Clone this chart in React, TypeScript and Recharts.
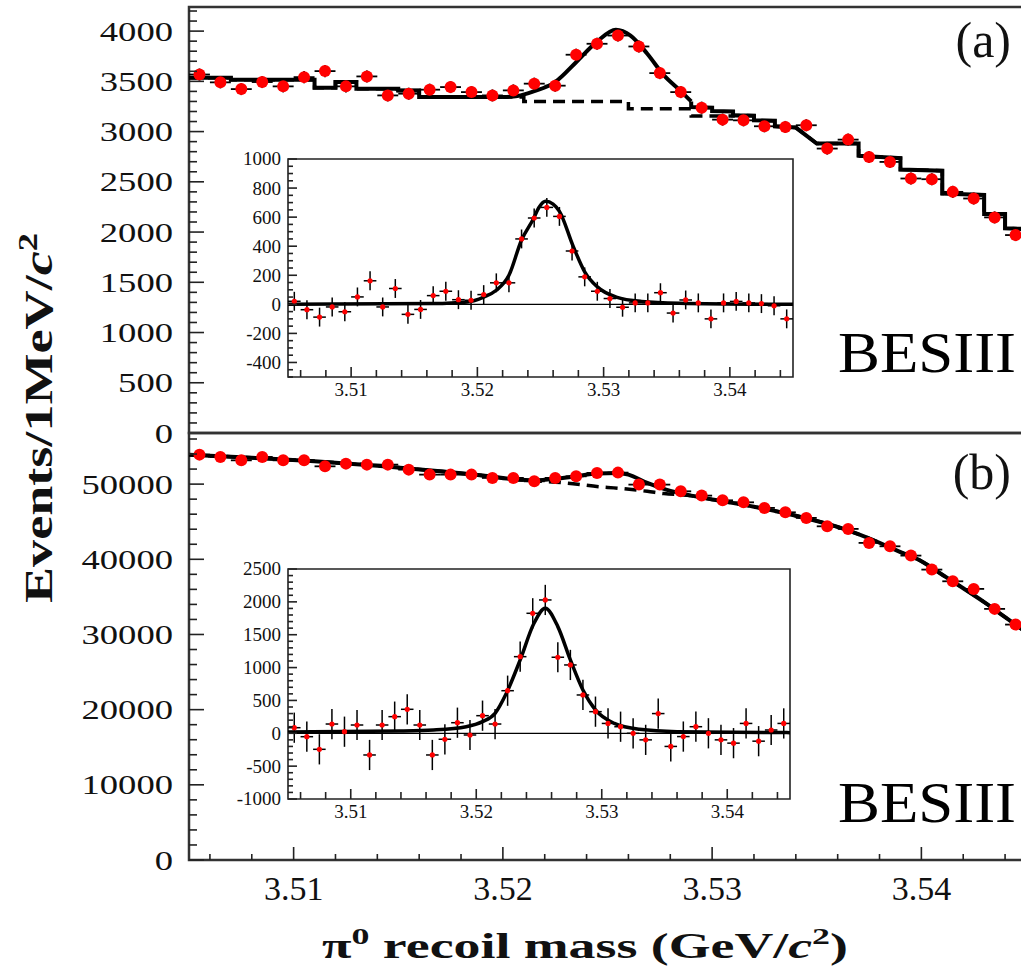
import React from 'react';
import { ComposedChart, Scatter, Line, XAxis, YAxis, ErrorBar, ReferenceLine, ReferenceArea } from 'recharts';

// ---------------- data ----------------
const binCenters = [
  3.5055, 3.5065, 3.5075, 3.5085, 3.5095, 3.5105, 3.5115, 3.5125, 3.5135, 3.5145,
  3.5155, 3.5165, 3.5175, 3.5185, 3.5195, 3.5205, 3.5215, 3.5225, 3.5235, 3.5245,
  3.5255, 3.5265, 3.5275, 3.5285, 3.5295, 3.5305, 3.5315, 3.5325, 3.5335, 3.5345,
  3.5355, 3.5365, 3.5375, 3.5385, 3.5395, 3.5405, 3.5415, 3.5425, 3.5435, 3.5445,
];

const countsA = [
  3568, 3490, 3423, 3493, 3450, 3542, 3602, 3450, 3549, 3360,
  3377, 3417, 3443, 3393, 3360, 3410, 3477, 3457, 3765, 3874,
  3956, 3847, 3582, 3393, 3238, 3119, 3112, 3053, 3046, 3063,
  2831, 2920, 2748, 2698, 2533, 2526, 2400, 2334, 2146, 1970,
];

const countsB = [
  53923, 53617, 53165, 53617, 53165, 53165, 52367, 52726, 52593, 52593,
  51928, 51263, 51263, 51263, 50824, 50824, 50372, 50824, 51037, 51489,
  51530, 49934, 49934, 49043, 48471, 47846, 47580, 46835, 46250, 45505,
  44388, 44043, 42181, 41729, 40492, 38630, 37074, 36064, 33404, 31316,
];

const residA = [
  21, -37, -88, -18, -51, 51, 162, -18, 109, -69,
  -35, 60, 90, 32, 28, 67, 148, 148, 450, 594,
  667, 605, 367, 189, 90, 40, -20, 10, 10, 80,
  -60, 30, 10, -100, 10, 20, 10, 5, -10, -100,
];

const residB = [
  85, -52, -244, 141, 24, 126, -330, 126, 253, 365,
  126, -330, -91, 161, -26, 268, 141, 648, 1166, 1826,
  2029, 1157, 1040, 583, 329, 150, 100, 0, -100, 300,
  -200, -50, 100, 0, -100, -150, 150, -120, 50, 150,
];

const binHalfWidth = 0.0005;
const errMainA = 60;
const errMainB = 225;
const errInsetA = 65;
const errInsetB = 230;

// fit curves, [mass, value]
const fitA_left: [number, number][] = [
  [3.505, 3536], [3.507, 3536], [3.507, 3516], [3.511, 3516], [3.511, 3437], [3.512, 3437],
  [3.512, 3493], [3.513, 3493], [3.513, 3427], [3.515, 3427], [3.515, 3410], [3.516, 3410],
  [3.516, 3344], [3.5200, 3344],
];
const fitA_peak: [number, number][] = [
  [3.5200, 3344], [3.5207, 3355], [3.5215, 3403], [3.5225, 3493], [3.5235, 3690], [3.5245, 3895],
  [3.5254, 4013], [3.5261, 3956], [3.5269, 3775], [3.5277, 3559], [3.5285, 3403], [3.5290, 3300],
];
const fitA_right: [number, number][] = [
  [3.5290, 3300], [3.529, 3245], [3.530, 3238], [3.530, 3205], [3.531, 3200], [3.531, 3162],
  [3.532, 3158], [3.532, 3112], [3.533, 3108], [3.533, 3053], [3.534, 3040], [3.535, 2881],
  [3.537, 2881], [3.537, 2760], [3.539, 2735], [3.539, 2623], [3.541, 2610], [3.541, 2384],
  [3.543, 2370], [3.543, 2179], [3.544, 2179], [3.544, 2037], [3.545, 2030],
];
const bkgA: [number, number][] = [
  [3.505, 3536], [3.507, 3536], [3.507, 3516], [3.511, 3516], [3.511, 3437], [3.512, 3437],
  [3.512, 3493], [3.513, 3493], [3.513, 3427], [3.515, 3427], [3.515, 3410], [3.516, 3410],
  [3.516, 3344], [3.521, 3344], [3.521, 3300], [3.526, 3300], [3.526, 3228], [3.529, 3228],
  [3.529, 3155], [3.531, 3155], [3.531, 3162], [3.532, 3158], [3.532, 3112], [3.533, 3108],
  [3.533, 3053], [3.534, 3040], [3.535, 2881], [3.537, 2881], [3.537, 2760], [3.539, 2735],
  [3.539, 2623], [3.541, 2610], [3.541, 2384], [3.543, 2370], [3.543, 2179], [3.544, 2179],
  [3.544, 2037], [3.545, 2030],
];

const fitB: [number, number][] = [
  [3.505, 53900], [3.508, 53500], [3.511, 53050], [3.514, 52450], [3.517, 51700], [3.519, 51150],
  [3.5205, 50650], [3.5215, 50500], [3.5225, 50690], [3.5235, 51050], [3.5245, 51400], [3.5255, 51490],
  [3.526, 51260], [3.5269, 50160], [3.5278, 49270], [3.529, 48470], [3.530, 47950], [3.532, 47000],
  [3.534, 45800], [3.536, 44300], [3.538, 42200], [3.539, 40950], [3.540, 39750], [3.541, 37950],
  [3.542, 36150], [3.543, 34300], [3.544, 32300], [3.545, 30300],
];
const bkgB: [number, number][] = [
  [3.505, 53900], [3.508, 53500], [3.511, 53050], [3.514, 52450], [3.517, 51700], [3.519, 51150],
  [3.5205, 50650], [3.523, 50160], [3.5247, 49630], [3.5253, 49500], [3.5269, 49040], [3.5277, 48740],
  [3.529, 48470], [3.530, 47950], [3.532, 47000], [3.534, 45800], [3.536, 44300], [3.538, 42200],
  [3.539, 40950], [3.540, 39750], [3.541, 37950], [3.542, 36150], [3.543, 34300], [3.544, 32300],
  [3.545, 30300],
];

const insetFitA: [number, number][] = [
  [3.505, 0], [3.5165, 5], [3.5192, 16], [3.5205, 50], [3.5215, 97], [3.5225, 200], [3.5235, 443],
  [3.5244, 582], [3.5249, 670], [3.5254, 709], [3.526, 690], [3.5265, 640], [3.5276, 397],
  [3.5285, 224], [3.5295, 120], [3.531, 50], [3.533, 20], [3.536, 8], [3.545, 0],
];
const insetFitB: [number, number][] = [
  [3.505, 20], [3.5139, 35], [3.5166, 50], [3.5192, 100], [3.5205, 177], [3.5215, 304], [3.5224, 609],
  [3.5235, 1116], [3.5246, 1674], [3.5255, 1903], [3.5265, 1623], [3.5275, 1116], [3.5285, 659],
  [3.5295, 355], [3.531, 150], [3.533, 60], [3.536, 25], [3.545, 10],
];

// ticks
const massTicks = [
  3.506, 3.508, 3.51, 3.512, 3.514, 3.516, 3.518, 3.52, 3.522, 3.524,
  3.526, 3.528, 3.53, 3.532, 3.534, 3.536, 3.538, 3.54, 3.542, 3.544,
];
const massMajors = [3.51, 3.52, 3.53, 3.54];
const ticksA = [0,100,200,300,400,500,600,700,800,900,1000,1100,1200,1300,1400,1500,1600,1700,1800,1900,2000,2100,2200,2300,2400,2500,2600,2700,2800,2900,3000,3100,3200,3300,3400,3500,3600,3700,3800,3900,4000,4100,4200];
const majorsA = [0, 500, 1000, 1500, 2000, 2500, 3000, 3500, 4000];
const ticksB = [0,2000,4000,6000,8000,10000,12000,14000,16000,18000,20000,22000,24000,26000,28000,30000,32000,34000,36000,38000,40000,42000,44000,46000,48000,50000,52000,54000,56000];
const majorsB = [0, 10000, 20000, 30000, 40000, 50000];
const insetTicksA = [-500,-450,-400,-350,-300,-250,-200,-150,-100,-50,0,50,100,150,200,250,300,350,400,450,500,550,600,650,700,750,800,850,900,950,1000];
const insetMajorsA = [-400, -200, 0, 200, 400, 600, 800, 1000];
const insetTicksB = [-1000,-900,-800,-700,-600,-500,-400,-300,-200,-100,0,100,200,300,400,500,600,700,800,900,1000,1100,1200,1300,1400,1500,1600,1700,1800,1900,2000,2100,2200,2300,2400,2500];
const insetMajorsB = [-1000, -500, 0, 500, 1000, 1500, 2000, 2500];

const domainA: [number, number] = [0, 4240];
const domainB: [number, number] = [0, 56800];
const domainInsetA: [number, number] = [-500, 1000];
const domainInsetB: [number, number] = [-1000, 2500];
const massDomain: [number, number] = [3.505, 3.545];

// ---------------- helpers ----------------
const SERIF = '"Liberation Serif", "Times New Roman", serif';
const isIn = (arr: number[], v: number) => arr.some((a) => Math.abs(a - v) < 1e-9);
const toXY = (pts: [number, number][]) => pts.map(([x, y]) => ({ x, y }));
const points = (vals: number[], ey: number) =>
  binCenters.map((x, i) => ({ x, y: vals[i], ex: binHalfWidth, ey }));

function makeYTick(majors: number[], majorLen: number, minorLen: number, fontSize: number, gap: number, digitW?: number) {
  return (props: any) => {
    const { x, y, payload } = props;
    const v = payload.value as number;
    const major = isIn(majors, v);
    const s = String(v);
    return (
      <g>
        <line x1={x} x2={x + (major ? majorLen : minorLen)} y1={y} y2={y} stroke="#222" strokeWidth={1.6} />
        {major && (
          <text
            x={x - gap}
            y={y + fontSize * 0.34}
            textAnchor="end"
            fontFamily={SERIF}
            fontSize={fontSize}
            fill="#111"
            textLength={digitW ? digitW * s.length : undefined}
            lengthAdjust="spacingAndGlyphs"
          >
            {s}
          </text>
        )}
      </g>
    );
  };
}

function makeXTick(majorLen: number, minorLen: number, dir: 1 | -1, label: boolean, fontSize: number, labelDy: number) {
  return (props: any) => {
    const { x, y, payload } = props;
    const v = payload.value as number;
    const major = isIn(massMajors, v);
    return (
      <g>
        <line x1={x} x2={x} y1={y} y2={y - dir * (major ? majorLen : minorLen)} stroke="#222" strokeWidth={1.6} />
        {label && major && (
          <text x={x} y={y + labelDy} textAnchor="middle" fontFamily={SERIF} fontSize={fontSize} fill="#111">
            {v.toFixed(2)}
          </text>
        )}
      </g>
    );
  };
}

const RedDot = (r: number) => (props: any) => <circle cx={props.cx} cy={props.cy} r={r} fill="#ff0000" />;

// ---------------- panels ----------------
function MainPanel(props: {
  top: number; plotH: number; domain: [number, number]; ticks: number[]; majors: number[];
  counts: number[]; err: number; fit: [number, number][][]; bkg: [number, number][]; showLabels: boolean;
  topTicks: boolean; smooth: boolean;
}) {
  const { top, plotH, domain, ticks, majors, counts, err, fit, bkg, showLabels, topTicks, smooth } = props;
  const bottomH = showLabels ? 60 : 0;
  const bottomM = showLabels ? 0 : 24;
  const height = 7 + plotH + bottomH + bottomM;
  return (
    <div style={{ position: 'absolute', left: 0, top: top - 7 }}>
      <ComposedChart width={1040} height={height} margin={{ top: 7, right: 14, bottom: bottomM, left: 0 }}>
        <XAxis
          xAxisId="b" dataKey="x" type="number" domain={massDomain} allowDataOverflow ticks={massTicks}
          interval={0} height={bottomH} tickSize={0} tickMargin={0} axisLine={false} tickLine={false}
          tick={makeXTick(showLabels ? 13 : 0, showLabels ? 6 : 0, 1, showLabels, 34, 40)}
        />
        <XAxis
          xAxisId="t" orientation="top" dataKey="x" type="number" domain={massDomain} allowDataOverflow ticks={massTicks}
          interval={0} height={0} tickSize={0} tickMargin={0} axisLine={false} tickLine={false}
          tick={makeXTick(topTicks ? 10 : 0, topTicks ? 6 : 0, -1, false, 10, 0)}
        />
        <YAxis
          yAxisId="l" type="number" domain={domain} allowDataOverflow ticks={ticks} interval={0} width={189}
          tickSize={0} tickMargin={0} axisLine={false} tickLine={false}
          tick={makeYTick(majors, 15, 8, 28, 16, 18.3)}
        />
        <ReferenceArea
          xAxisId="b" yAxisId="l" x1={massDomain[0]} x2={massDomain[1]} y1={domain[0]} y2={domain[1]}
          fill="none" stroke="#333" strokeWidth={2.5} fillOpacity={0} ifOverflow="visible"
        />
        <Line
          xAxisId="b" yAxisId="l" data={toXY(bkg)} dataKey="y" type={smooth ? 'monotone' : 'linear'} stroke="#000"
          strokeWidth={3.5} strokeDasharray="12 7" dot={false} isAnimationActive={false}
        />
        {fit.map((seg, i) => (
          <Line
            key={i} xAxisId="b" yAxisId="l" data={toXY(seg)} dataKey="y"
            type={smooth || i === 1 ? 'monotone' : 'linear'} stroke="#000" strokeWidth={4} dot={false}
            isAnimationActive={false}
          />
        ))}
        <Scatter
          xAxisId="b" yAxisId="l" data={points(counts, err)} dataKey="y" shape={RedDot(6)}
          isAnimationActive={false}
        >
          <ErrorBar dataKey="ex" direction="x" width={0} stroke="#000" strokeWidth={1.8} />
          <ErrorBar dataKey="ey" direction="y" width={0} stroke="#000" strokeWidth={1.8} />
        </Scatter>
      </ComposedChart>
    </div>
  );
}

function Inset(props: {
  left: number; top: number; plotW: number; plotH: number; domain: [number, number]; ticks: number[];
  majors: number[]; resid: number[]; err: number; fit: [number, number][];
}) {
  const { left, top, plotW, plotH, domain, ticks, majors, resid, err, fit } = props;
  const yW = 62;
  return (
    <div style={{ position: 'absolute', left: left - yW, top: top - 10 }}>
      <ComposedChart width={yW + plotW + 10} height={10 + plotH + 32} margin={{ top: 10, right: 10, bottom: 0, left: 0 }}>
        <XAxis
          xAxisId="b" dataKey="x" type="number" domain={massDomain} allowDataOverflow ticks={massTicks}
          interval={0} height={32} tickSize={0} tickMargin={0} axisLine={false} tickLine={false}
          tick={makeXTick(10, 7, 1, true, 19, 19)}
        />
        <YAxis
          yAxisId="l" type="number" domain={domain} allowDataOverflow ticks={ticks} interval={0} width={yW}
          tickSize={0} tickMargin={0} axisLine={false} tickLine={false}
          tick={makeYTick(majors, 9, 5, 19, 7)}
        />
        <ReferenceArea
          xAxisId="b" yAxisId="l" x1={massDomain[0]} x2={massDomain[1]} y1={domain[0]} y2={domain[1]}
          fill="#fff" fillOpacity={0} stroke="#222" strokeWidth={1.6} ifOverflow="visible"
        />
        <ReferenceLine xAxisId="b" yAxisId="l" y={0} stroke="#000" strokeWidth={1.3} />
        <Line
          xAxisId="b" yAxisId="l" data={toXY(fit)} dataKey="y" type="monotone" stroke="#000"
          strokeWidth={3.5} dot={false} isAnimationActive={false}
        />
        <Scatter xAxisId="b" yAxisId="l" data={points(resid, err)} dataKey="y" shape={RedDot(2.6)} isAnimationActive={false}>
          <ErrorBar dataKey="ex" direction="x" width={0} stroke="#000" strokeWidth={1.5} />
          <ErrorBar dataKey="ey" direction="y" width={0} stroke="#000" strokeWidth={1.5} />
        </Scatter>
      </ComposedChart>
    </div>
  );
}

export default function App() {
  return (
    <div style={{ position: 'absolute', left: 0, top: 0, width: 1021, height: 973, overflow: 'hidden', background: '#fff' }}>
      <MainPanel
        top={7} plotH={426} domain={domainA} ticks={ticksA} majors={majorsA} counts={countsA} err={errMainA}
        fit={[fitA_left, fitA_peak, fitA_right]} bkg={bkgA} showLabels={false} topTicks={false} smooth={false}
      />
      <MainPanel
        top={433} plotH={427} domain={domainB} ticks={ticksB} majors={majorsB} counts={countsB} err={errMainB}
        fit={[fitB]} bkg={bkgB} showLabels={true} topTicks={true} smooth={true}
      />
      <Inset left={288} top={159} plotW={505} plotH={218} domain={domainInsetA} ticks={insetTicksA}
        majors={insetMajorsA} resid={residA} err={errInsetA} fit={insetFitA} />
      <Inset left={288} top={569} plotW={502} plotH={230} domain={domainInsetB} ticks={insetTicksB}
        majors={insetMajorsB} resid={residB} err={errInsetB} fit={insetFitB} />
      <svg width={1021} height={973} style={{ position: 'absolute', left: 0, top: 0, pointerEvents: 'none' }}>
        <text x={1011} y={57} textAnchor="end" fontFamily={SERIF} fontSize={50} fill="#111">(a)</text>
        <text x={1011} y={489} textAnchor="end" fontFamily={SERIF} fontSize={50} fill="#111">(b)</text>
        <text x={838} y={372} fontFamily={SERIF} fontSize={56} fill="#000" textLength={178} lengthAdjust="spacingAndGlyphs">BESIII</text>
        <text x={838} y={822} fontFamily={SERIF} fontSize={56} fill="#000" textLength={178} lengthAdjust="spacingAndGlyphs">BESIII</text>
        <text x={585} y={958} textAnchor="middle" fontFamily={SERIF} fontWeight="bold" fontSize={36} fill="#111"
          textLength={526} lengthAdjust="spacingAndGlyphs">
          π<tspan dy={-14} fontSize={24}>0</tspan><tspan dy={14}> recoil mass (GeV/</tspan><tspan fontStyle="italic">c</tspan><tspan dy={-14} fontSize={24}>2</tspan><tspan dy={14}>)</tspan>
        </text>
        <text transform="translate(52, 418) rotate(-90)" textAnchor="middle" fontFamily={SERIF} fontWeight="bold"
          fontSize={40} fill="#111" textLength={370} lengthAdjust="spacingAndGlyphs">
          Events/1MeV/<tspan fontStyle="italic">c</tspan><tspan dy={-15} fontSize={27}>2</tspan>
        </text>
      </svg>
    </div>
  );
}
